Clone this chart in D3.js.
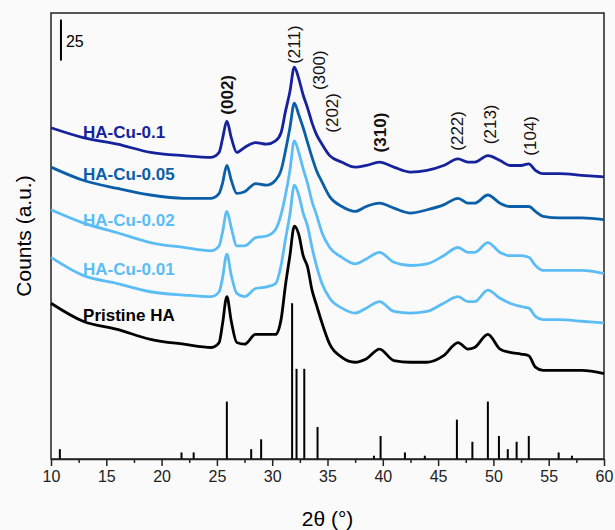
<!DOCTYPE html>
<html lang="en">
<head>
    <meta charset="UTF-8">
    <title>XRD patterns HA-Cu</title>
    <script src="https://d3js.org/d3.v7.min.js"></script>
    <style>
        body { margin: 0; background: #fafafa; }
        text { font-family: "Liberation Sans", Arial, sans-serif; }
    </style>
</head>
<body>
    <svg width="615" height="530"></svg>

    <script>
        // 2theta grid (deg) shared by all patterns
        const twoTheta = [10, 12.9, 16, 19, 22, 24.5, 25.2, 25.5, 25.9, 26.3, 26.8, 27.5, 28.5, 29.5, 30.3, 30.8,
            31.2, 31.6, 32, 32.4, 32.8, 33.2, 33.6, 34, 34.5, 35.2, 36.3, 37.5, 38.5, 39.7, 41, 42.5, 44, 45.5,
            46.8, 47.7, 48.3, 49.5, 50.6, 51.5, 52.5, 53.2, 53.8, 54.5, 56, 58, 60];

        // stacked counts (a.u.)
        const cu010 = [202, 196, 192, 187, 185, 184, 187, 195, 206, 196, 187, 190, 193, 192, 194, 199, 212, 224, 239, 232,
            222, 214, 205, 198, 192, 185, 181, 178, 179, 181, 178, 175, 176, 179, 183, 181, 181, 185, 182, 179, 179, 180,
            176, 174, 174, 173, 172];
        const cu005 = [178, 170, 165, 161, 159, 159, 162, 168, 179, 170, 162, 163, 168, 167, 170, 176, 188, 202, 217, 210,
            202, 193, 184, 176, 169, 160, 154, 151, 154, 156, 153, 150, 152, 155, 159, 156, 156, 161, 156, 154, 154, 154,
            151, 148, 147, 147, 146];
        const cu002 = [152, 144, 138, 132, 129, 127, 130, 138, 151, 141, 130, 130, 135, 136, 140, 149, 161, 176, 194, 187,
            177, 168, 157, 149, 138, 129, 123, 119, 122, 126, 120, 118, 119, 124, 129, 126, 126, 132, 126, 124, 124, 123,
            118, 115, 115, 115, 113];
        const cu001 = [123, 112, 107, 102, 100, 99, 102, 110, 125, 112, 101, 99, 104, 105, 107, 118, 134, 149, 167, 161,
            150, 142, 129, 118, 107, 98, 92, 89, 92, 96, 90, 89, 90, 95, 99, 96, 96, 103, 98, 95, 93, 92,
            87, 85, 85, 84, 83];
        const pristine = [95, 84, 79, 73, 70, 68, 71, 82, 99, 84, 71, 70, 76, 76, 76, 85, 106, 124, 142, 137,
            124, 117, 103, 94, 83, 70, 62, 59, 61, 67, 60, 59, 59, 63, 71, 67, 68, 76, 67, 65, 64, 63,
            56, 54, 54, 54, 52];

        const seriesNames = ["HA-Cu-0.1", "HA-Cu-0.05", "HA-Cu-0.02", "HA-Cu-0.01", "Pristine HA"];
        const seriesColors = ["#16229c", "#0b5ea8", "#5cbdf6", "#5cbdf6", "#000000"];
        const seriesValues = [cu010, cu005, cu002, cu001, pristine];

        // HA reference pattern (sticks)
        const refPos = [10.8, 21.8, 22.9, 25.9, 28.1, 29.0, 31.8, 32.2, 32.9, 34.1, 39.2, 39.8, 42.0, 43.8,
            46.7, 48.1, 49.5, 50.5, 51.3, 52.1, 53.2, 55.9, 57.1];
        const refInt = [6, 4, 4, 35, 6, 12, 95, 55, 55, 19.5, 2, 14, 4, 2, 24, 10.5, 35, 14, 6, 10.5, 14, 4, 2];

        // Miller index labels
        const hklLabels = ["(002)", "(211)", "(300)", "(202)", "(310)", "(222)", "(213)", "(104)"];
        const hklPos = [25.9, 31.95, 34.2, 35.45, 39.75, 46.7, 49.7, 53.3];
        const hklBase = [210, 241, 225, 199, 187, 188, 192, 185];
        const hklBold = [true, false, false, false, true, false, false, false];

        const width = 615, height = 530;
        const margin = {top: 13, right: 11, bottom: 71, left: 51};

        const svg = d3.select("svg");

        const x = d3.scaleLinear()
            .domain([10, 60])
            .range([margin.left, width - margin.right]);

        const y = d3.scaleLinear()
            .domain([0, 272])
            .range([height - margin.bottom, margin.top]);

        // frame
        svg.append("rect")
            .attr("x", margin.left)
            .attr("y", margin.top)
            .attr("width", width - margin.left - margin.right)
            .attr("height", height - margin.top - margin.bottom)
            .attr("fill", "none")
            .attr("stroke", "#222")
            .attr("stroke-width", 1.5);

        // reference sticks
        svg.append("g")
            .selectAll("line")
            .data(refPos)
            .join("line")
            .attr("x1", d => x(d))
            .attr("x2", d => x(d))
            .attr("y1", y(0))
            .attr("y2", (d, i) => y(refInt[i]))
            .attr("stroke", "#000")
            .attr("stroke-width", 2);

        // patterns
        const line = d3.line()
            .x((d, i) => x(twoTheta[i]))
            .y(d => y(d))
            .curve(d3.curveMonotoneX);

        svg.append("g")
            .selectAll("path")
            .data(seriesValues)
            .join("path")
            .attr("d", d => line(d))
            .attr("fill", "none")
            .attr("stroke", (d, i) => seriesColors[i])
            .attr("stroke-width", 2.8)
            .attr("stroke-linejoin", "round");

        // series labels
        const labelCounts = [196, 170, 142, 112, 84];
        svg.append("g")
            .selectAll("text")
            .data(seriesNames)
            .join("text")
            .attr("x", x(12.9))
            .attr("y", (d, i) => y(labelCounts[i]))
            .attr("fill", (d, i) => seriesColors[i])
            .style("font-size", "17px")
            .style("font-weight", "bold")
            .text(d => d);

        // hkl labels, rotated
        svg.append("g")
            .selectAll("text")
            .data(hklLabels)
            .join("text")
            .attr("transform", (d, i) => `translate(${x(hklPos[i])},${y(hklBase[i])}) rotate(-90)`)
            .attr("dy", "0.35em")
            .style("font-size", "17px")
            .style("font-weight", (d, i) => hklBold[i] ? "bold" : "normal")
            .attr("fill", "#111")
            .text(d => d);

        // scale bar (25 counts)
        svg.append("line")
            .attr("x1", x(10.9)).attr("x2", x(10.9))
            .attr("y1", y(243)).attr("y2", y(268))
            .attr("stroke", "#000")
            .attr("stroke-width", 2);
        svg.append("text")
            .attr("x", x(11.35))
            .attr("y", y(251))
            .style("font-size", "16px")
            .text("25");

        // x axis: major and minor ticks
        const axisY = height - margin.bottom;
        svg.append("g")
            .attr("transform", `translate(0,${axisY})`)
            .call(d3.axisBottom(x).tickValues(d3.range(12.5, 60, 5)).tickSize(4).tickFormat(""))
            .call(g => g.select(".domain").remove())
            .selectAll("line").attr("stroke", "#222").attr("stroke-width", 1.5);

        const xAxis = svg.append("g")
            .attr("transform", `translate(0,${axisY})`)
            .call(d3.axisBottom(x).tickValues(d3.range(10, 61, 5)).tickSize(7).tickPadding(5).tickSizeOuter(0));
        xAxis.select(".domain").attr("stroke", "#222").attr("stroke-width", 1.5);
        xAxis.selectAll("line").attr("stroke", "#222").attr("stroke-width", 1.5);
        xAxis.selectAll("text")
            .style("font-size", "16px")
            .style("font-family", "'Liberation Sans', Arial, sans-serif")
            .attr("fill", "#222");

        // axis titles
        svg.append("text")
            .attr("text-anchor", "middle")
            .attr("x", (margin.left + width - margin.right) / 2)
            .attr("y", 526)
            .style("font-size", "21px")
            .text("2θ (°)");

        svg.append("text")
            .attr("text-anchor", "middle")
            .attr("transform", "translate(31,236) rotate(-90)")
            .style("font-size", "21px")
            .text("Counts (a.u.)");
    </script>
</body>
</html>
